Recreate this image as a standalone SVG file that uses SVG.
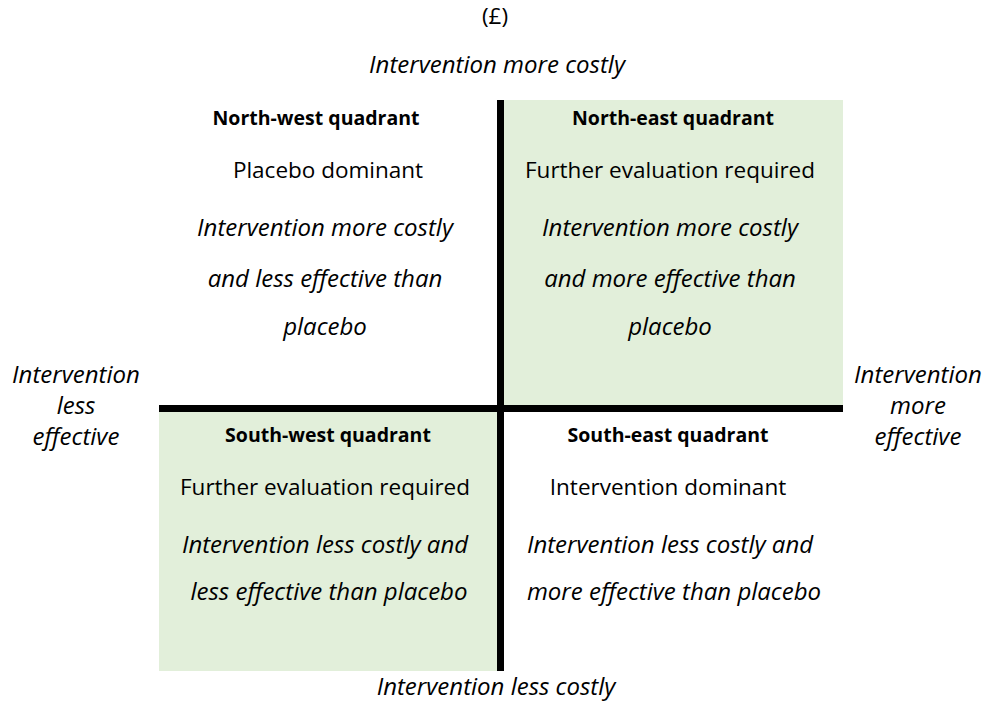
<svg xmlns="http://www.w3.org/2000/svg" width="988" height="702" viewBox="0 0 988 702">
<style>
text{font-family:"Open Sans","Noto Sans","Liberation Sans",sans-serif;font-size:22.5px;fill:#000;text-anchor:middle}
.b{font-weight:bold;font-size:19.5px}
.i{font-style:italic;font-size:24px}
.q{fill:#E2EFDA}
.ax{fill:#000}
</style>
<rect width="988" height="702" fill="#fff"/>
<g id="quadrant-ne">
<rect class="q" x="504" y="100" width="339" height="306"/>
<text class="b" x="673" y="125">North-east quadrant</text>
<text x="670" y="178">Further evaluation required</text>
<text class="i" x="670" y="236">Intervention more costly</text>
<text class="i" x="670" y="287">and more effective than</text>
<text class="i" x="670" y="335">placebo</text>
</g>
<g id="quadrant-nw">
<text class="b" x="316" y="125">North-west quadrant</text>
<text x="328" y="178">Placebo dominant</text>
<text class="i" x="325" y="236">Intervention more costly</text>
<text class="i" x="325" y="287">and less effective than</text>
<text class="i" x="325" y="335">placebo</text>
</g>
<g id="quadrant-sw">
<rect class="q" x="159" y="412" width="339" height="259"/>
<text class="b" x="328" y="442">South-west quadrant</text>
<text x="325" y="495">Further evaluation required</text>
<text class="i" x="325" y="553">Intervention less costly and</text>
<text class="i" x="329" y="600">less effective than placebo</text>
</g>
<g id="quadrant-se">
<text class="b" x="668" y="442">South-east quadrant</text>
<text x="668" y="495">Intervention dominant</text>
<text class="i" x="670" y="553">Intervention less costly and</text>
<text class="i" x="674" y="600">more effective than placebo</text>
</g>
<g id="axes">
<rect class="ax" x="497" y="100" width="7" height="571"/>
<rect class="ax" x="159" y="405" width="684" height="7"/>
</g>
<g id="labels">
<text x="495" y="24">(£)</text>
<text class="i" x="497" y="73">Intervention more costly</text>
<text class="i" x="496" y="695">Intervention less costly</text>
<text class="i" x="76" y="383">Intervention</text>
<text class="i" x="76" y="414">less</text>
<text class="i" x="76" y="445">effective</text>
<text class="i" x="918" y="383">Intervention</text>
<text class="i" x="918" y="414">more</text>
<text class="i" x="918" y="445">effective</text>
</g>
</svg>
